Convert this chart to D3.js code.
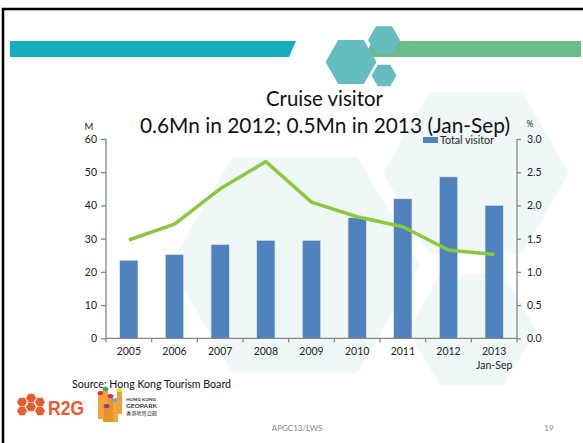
<!DOCTYPE html>
<html><head><meta charset="utf-8">
<script src="https://cdn.jsdelivr.net/npm/d3@7"></script>
<style>html,body{margin:0;padding:0;background:#fff;}svg{display:block;}</style>
</head><body>
<svg id="chart" width="583" height="443"></svg>
<script>
// ---- data ----
const categories = ["2005","2006","2007","2008","2009","2010","2011","2012","2013"];
const categorySubLabels = ["","","","","","","","","Jan-Sep"];
const totalVisitors = [23.5, 25.2, 28.2, 29.5, 29.5, 36.3, 42.0, 48.6, 40.0];   // M
const cruiseShare = [1.48, 1.72, 2.25, 2.66, 2.05, 1.83, 1.68, 1.33, 1.26];     // %
const leftTicks = [0,10,20,30,40,50,60];
const rightTicks = [0,0.5,1.0,1.5,2.0,2.5,3.0];
const titleLines = ["Cruise visitor", "0.6Mn in 2012; 0.5Mn in 2013 (Jan-Sep)"];
const legendLabel = "Total visitor";
const sourceText = "Source: Hong Kong Tourism Board";
const footerText = "APGC13/LWS";
const pageNumber = "19";

const svg = d3.select("#chart");
const font = "Lato, 'Open Sans', 'Liberation Sans', sans-serif";

function hexPts(cx, cy, r) {
  return d3.range(6).map(i => {
    const a = Math.PI / 3 * i;
    return [cx + r * Math.cos(a), cy + r * Math.sin(a)];
  }).map(p => p.join(",")).join(" ");
}

// background decorative hexagons
const bgHex = [[295,265,125],[476,173,93],[472,330,64]];
svg.selectAll("polygon.bg").data(bgHex).enter().append("polygon")
  .attr("class","bg").attr("points", d => hexPts(d[0], d[1], d[2]))
  .attr("fill", "#eff8f7");

// slide border
svg.append("rect").attr("x",3).attr("y",9).attr("width",590).attr("height",450)
  .attr("fill","none").attr("stroke","#000").attr("stroke-width",2.5);

// header bars
svg.append("polygon").attr("points","10,41 296,41 289,57 10,57").attr("fill","#17acbe");
svg.append("polygon").attr("points","372,41 581,41 581,57 365,57").attr("fill","#6dba8a");
[[351,62,25.5],[384,40,16],[384,75.5,12.5]].forEach(h => {
  svg.append("polygon").attr("points", hexPts(h[0],h[1],h[2])).attr("fill","#66bdbf");
});

// scales
const x = d3.scaleBand().domain(categories).range([106, 517]).paddingInner(0.6).paddingOuter(0.3);
const yL = d3.scaleLinear().domain([0, 60]).range([338.3, 139]);
const yR = d3.scaleLinear().domain([0, 3]).range([338.3, 139]);

// bars
svg.selectAll("rect.bar").data(totalVisitors).enter().append("rect")
  .attr("class","bar")
  .attr("x", (d,i) => x(categories[i]))
  .attr("width", x.bandwidth())
  .attr("y", d => yL(d))
  .attr("height", d => yL(0) - yL(d))
  .attr("fill", "#4f81bd").attr("stroke","#dfe8f3").attr("stroke-width",0.6);

// line
const line = d3.line().x((d,i) => x(categories[i]) + x.bandwidth()/2).y(d => yR(d));
svg.append("path").datum(cruiseShare).attr("d", line)
  .attr("fill","none").attr("stroke","#8cc83f").attr("stroke-width",3.5)
  .attr("stroke-linejoin","round");

// axes
const axisColor = "#868686";
const gL = svg.append("g").attr("transform","translate(106,0)")
  .call(d3.axisLeft(yL).tickValues(leftTicks).tickSize(5).tickPadding(4));
const gR = svg.append("g").attr("transform","translate(517,0)")
  .call(d3.axisRight(yR).tickValues(rightTicks).tickSize(4).tickPadding(6).tickFormat(d3.format(".1f")));
const gB = svg.append("g").attr("transform","translate(0,338.3)")
  .call(d3.axisBottom(x).tickSize(0).tickPadding(10));
[gL,gR,gB].forEach(g => {
  g.select(".domain").attr("stroke", axisColor).attr("stroke-width",1.3);
  g.selectAll(".tick line").attr("stroke", axisColor).attr("stroke-width",1.3);
  g.selectAll("text").attr("font-family", font).attr("font-size", 10.5).attr("fill","#222");
});
gL.select(".domain").attr("d","M0,139V338.3");
gR.select(".domain").attr("d","M0,139V338.3");
gB.select(".domain").attr("d","M106,0H517");
// category boundary ticks
const boundaries = d3.range(categories.length + 1).map(i => 106 + i * (411 / categories.length));
gB.selectAll("line.bt").data(boundaries).enter().append("line").attr("class","bt")
  .attr("x1", d => d).attr("x2", d => d).attr("y1", 0).attr("y2", 4)
  .attr("stroke", axisColor).attr("stroke-width",1.3);
gB.selectAll(".tick text").attr("dy", "0.71em").attr("y", 9);
gB.selectAll(".tick").each(function(d){
  const sub = categorySubLabels[categories.indexOf(d)];
  if (sub) d3.select(this).append("text").attr("y", 23).attr("dy","0.71em")
    .attr("text-anchor","middle").attr("font-family",font).attr("font-size",10.5)
    .attr("fill","#222").text(sub);
});

// unit labels
svg.append("text").attr("x",89).attr("y",130).attr("text-anchor","middle")
  .attr("font-family",font).attr("font-size",9.5).attr("fill","#222").text("M");
svg.append("text").attr("x",530).attr("y",127).attr("text-anchor","middle")
  .attr("font-family",font).attr("font-size",8.5).attr("fill","#222").text("%");

// title
svg.append("text").attr("x",324.5).attr("y",106).attr("text-anchor","middle")
  .attr("font-family",font).attr("font-size",21).attr("fill","#111")
  .attr("textLength",117).attr("lengthAdjust","spacingAndGlyphs").text(titleLines[0]);
svg.append("text").attr("x",325).attr("y",133).attr("text-anchor","middle")
  .attr("font-family",font).attr("font-size",21).attr("fill","#111")
  .attr("textLength",370).attr("lengthAdjust","spacingAndGlyphs").text(titleLines[1]);

// legend
svg.append("rect").attr("x",423).attr("y",137).attr("width",15).attr("height",6).attr("fill","#4f81bd");
svg.append("text").attr("x",440).attr("y",143.5).attr("font-family",font).attr("font-size",10.5)
  .attr("fill","#222").attr("textLength",54).attr("lengthAdjust","spacingAndGlyphs").text(legendLabel);

// source
svg.append("text").attr("x",72).attr("y",388).attr("font-family",font).attr("font-size",11)
  .attr("fill","#111").attr("textLength",159).attr("lengthAdjust","spacingAndGlyphs").text(sourceText);

// R2G logo
[[22,402,5],[31,398,5],[40,402,5],[22,411,5],[31,407,5],[40,411,5]].forEach(h => {
  svg.append("polygon").attr("points", hexPts(h[0],h[1],h[2])).attr("fill","#ea5a2f");
});
svg.append("text").attr("x",48).attr("y",414.5).attr("font-family","'Liberation Sans',sans-serif")
  .attr("font-weight","bold").attr("font-size",20).attr("fill","#ea5a2f")
  .attr("textLength",36).attr("lengthAdjust","spacingAndGlyphs").text("R2G");

// Geopark logo
const gp = [[98,393,5,26,"#f0a43a","#e2312f"],[103,389,5,33,"#f6a23c","#4aa84a"],[108,396,5,26,"#e9932e","#c62f88"],
            [113,400,5,22,"#f2a640","#55b0d8"],[117,390,5,24,"#f0a038","#f5e030"],[104,406,5,16,"#e88f2c","#8a3b9a"]];
gp.forEach(b => {
  svg.append("rect").attr("x",b[0]).attr("y",b[1]).attr("width",b[2]).attr("height",b[3]).attr("fill",b[4]);
  svg.append("ellipse").attr("cx",b[0]+b[2]/2).attr("cy",b[1]).attr("rx",b[2]/2+0.5).attr("ry",2).attr("fill",b[5]);
});
svg.append("text").attr("x",126).attr("y",401).attr("font-family",font).attr("font-size",4).attr("font-weight","bold")
  .attr("fill","#333").attr("textLength",30).attr("lengthAdjust","spacingAndGlyphs").text("HONG KONG");
svg.append("text").attr("x",126).attr("y",407.5).attr("font-family",font).attr("font-size",5.5).attr("font-weight","bold")
  .attr("fill","#333").attr("textLength",31).attr("lengthAdjust","spacingAndGlyphs").text("GEOPARK");
svg.append("text").attr("x",126).attr("y",414.5).attr("font-family","'Noto Sans CJK TC',sans-serif").attr("font-size",5)
  .attr("fill","#333").attr("textLength",31).attr("lengthAdjust","spacingAndGlyphs").text("香港地質公園");

// footer
svg.append("text").attr("x",297).attr("y",431).attr("text-anchor","middle").attr("font-family",font)
  .attr("font-size",8).attr("fill","#888").text(footerText);
svg.append("text").attr("x",549).attr("y",431).attr("text-anchor","middle").attr("font-family",font)
  .attr("font-size",8).attr("fill","#888").text(pageNumber);
</script>
</body></html>
